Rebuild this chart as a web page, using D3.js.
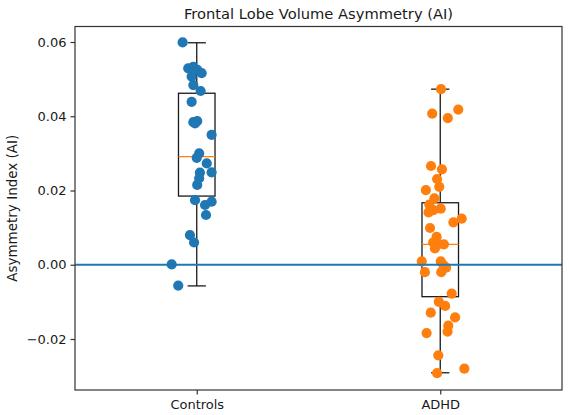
<!DOCTYPE html>
<html>
<head>
<meta charset="utf-8">
<script src="https://cdn.jsdelivr.net/npm/d3@7"></script>
<style>
  html, body { margin: 0; padding: 0; background: #fff; }
  svg { display: block; font-family: "DejaVu Sans", sans-serif; }
</style>
</head>
<body>
<svg id="chart" width="569" height="415"></svg>
<script>
// ---- data ----
const categories = ["Controls", "ADHD"];
const groupColors = ["#1f77b4", "#ff7f0e"];

// box stats per group: [lower whisker, q1, median, q3, upper whisker]
const controlsBox = [-0.0057, 0.0185, 0.0291, 0.0462, 0.0598];
const adhdBox = [-0.0291, -0.0086, 0.0055, 0.0167, 0.0473];

// values and horizontal jitter (in category units)
const controlsValues = [0.0599, 0.0529, 0.0533, 0.0525, 0.0516, 0.0507, 0.0484, 0.0468, 0.0439, 0.0384,
  0.0387, 0.0381, 0.0350, 0.0300, 0.0288, 0.0273, 0.0249, 0.0248, 0.0233, 0.0215,
  0.0174, 0.0161, 0.0170, 0.0134, 0.0080, 0.0060, 0.0001, -0.0056];
const controlsJitter = [-0.058, -0.035, -0.014, 0.002, 0.020, -0.021, -0.014, 0.016, -0.021, -0.014,
  0.002, -0.007, 0.061, 0.010, 0.000, 0.041, 0.061, 0.013, 0.010, 0.002,
  -0.007, 0.034, 0.061, 0.038, -0.028, -0.011, -0.103, -0.076];

const adhdValues = [0.0473, 0.0407, 0.0418, 0.0395, 0.0266, 0.0257, 0.0231, 0.0210, 0.0201, 0.0179,
  0.0162, 0.0147, 0.0151, 0.0141, 0.0124, 0.0114, 0.0099, 0.0075, 0.0060, 0.0055,
  0.0055, 0.0044, 0.0009, 0.0009, -0.0001, -0.0008, -0.0020, -0.0020, -0.0078, -0.0100,
  -0.0111, -0.0129, -0.0142, -0.0164, -0.0180, -0.0184, -0.0244, -0.0292, -0.0280];
const adhdJitter = [0.003, -0.033, 0.074, 0.031, -0.038, 0.007, -0.013, -0.004, -0.059, -0.024,
  -0.045, -0.028, 0.002, -0.048, 0.088, 0.054, -0.042, -0.015, -0.029, -0.008,
  0.015, -0.022, -0.076, 0.002, 0.013, 0.024, -0.063, 0.004, 0.047, -0.006,
  0.020, -0.039, 0.061, 0.033, 0.030, -0.056, -0.008, -0.013, 0.099];

const yTicks = [-0.02, 0.00, 0.02, 0.04, 0.06];
const yDomain = [-0.03374, 0.06418];
const refLine = 0;
const titleText = "Frontal Lobe Volume Asymmetry (AI)";
const yLabelText = "Asymmetry Index (AI)";

// ---- layout ----
const svg = d3.select("#chart");
const margin = { left: 75, right: 569 - 562, top: 26.5, bottom: 415 - 390 };
const W = 569, H = 415;
const x = d3.scaleLinear().domain([0.5, 2.5]).range([margin.left, W - margin.right]);
const y = d3.scaleLinear().domain(yDomain).range([H - margin.bottom, margin.top]);

const boxes = [controlsBox, adhdBox];
const groups = [
  { vals: controlsValues, jit: controlsJitter },
  { vals: adhdValues, jit: adhdJitter }
];
const boxW = 0.15, capW = 0.075;

const g = svg.append("g");

// boxes
boxes.forEach((b, i) => {
  const pos = i + 1;
  const bg = g.append("g").attr("fill", "none").attr("stroke", "#1a1a1a").attr("stroke-width", 1.3);
  bg.append("rect")
    .attr("x", x(pos - boxW / 2)).attr("width", x(pos + boxW / 2) - x(pos - boxW / 2))
    .attr("y", y(b[3])).attr("height", y(b[1]) - y(b[3]));
  bg.append("line").attr("x1", x(pos)).attr("x2", x(pos)).attr("y1", y(b[3])).attr("y2", y(b[4]));
  bg.append("line").attr("x1", x(pos)).attr("x2", x(pos)).attr("y1", y(b[1])).attr("y2", y(b[0]));
  bg.append("line").attr("x1", x(pos - capW / 2)).attr("x2", x(pos + capW / 2)).attr("y1", y(b[4])).attr("y2", y(b[4]));
  bg.append("line").attr("x1", x(pos - capW / 2)).attr("x2", x(pos + capW / 2)).attr("y1", y(b[0])).attr("y2", y(b[0]));
  g.append("line")
    .attr("x1", x(pos - boxW / 2)).attr("x2", x(pos + boxW / 2))
    .attr("y1", y(b[2])).attr("y2", y(b[2]))
    .attr("stroke", "#ff7f0e").attr("stroke-width", 1.3);
});

// points
groups.forEach((grp, i) => {
  const pos = i + 1;
  g.append("g").selectAll("circle")
    .data(grp.vals.map((v, k) => ({ v, j: grp.jit[k] })))
    .join("circle")
    .attr("cx", d => x(pos + d.j))
    .attr("cy", d => y(d.v))
    .attr("r", 5.1)
    .attr("fill", groupColors[i]);
});

// reference line
g.append("line")
  .attr("x1", margin.left).attr("x2", W - margin.right)
  .attr("y1", y(refLine)).attr("y2", y(refLine))
  .attr("stroke", "#1f77b4").attr("stroke-width", 1.9);

// frame
svg.append("rect")
  .attr("x", margin.left).attr("y", margin.top)
  .attr("width", W - margin.right - margin.left)
  .attr("height", H - margin.bottom - margin.top)
  .attr("fill", "none").attr("stroke", "#333").attr("stroke-width", 1.2);

// axes
const fmt = d => d === 0 ? "0.00" : d3.format(".2f")(d).replace("-", "\u2212");
const yAxis = svg.append("g")
  .attr("transform", `translate(${margin.left},0)`)
  .call(d3.axisLeft(y).tickValues(yTicks).tickFormat(fmt).tickSize(4.5).tickPadding(4));
const xAxis = svg.append("g")
  .attr("transform", `translate(0,${H - margin.bottom})`)
  .call(d3.axisBottom(x).tickValues([1, 2]).tickFormat(d => categories[d - 1]).tickSize(4.5).tickPadding(5));
[yAxis, xAxis].forEach(a => {
  a.select(".domain").remove();
  a.selectAll(".tick line").attr("stroke", "#333").attr("stroke-width", 1.2);
  a.selectAll(".tick text").attr("fill", "#1a1a1a").style("font-size", "13px").style("font-family", "DejaVu Sans");
});

// title
svg.append("text")
  .attr("x", (margin.left + W - margin.right) / 2)
  .attr("y", 19)
  .attr("text-anchor", "middle")
  .style("font-size", "14.7px")
  .attr("fill", "#1a1a1a")
  .text(titleText);

// y label
svg.append("text")
  .attr("transform", `translate(17,${(margin.top + H - margin.bottom) / 2}) rotate(-90)`)
  .attr("text-anchor", "middle")
  .style("font-size", "13.5px")
  .attr("fill", "#1a1a1a")
  .text(yLabelText);
</script>
</body>
</html>
